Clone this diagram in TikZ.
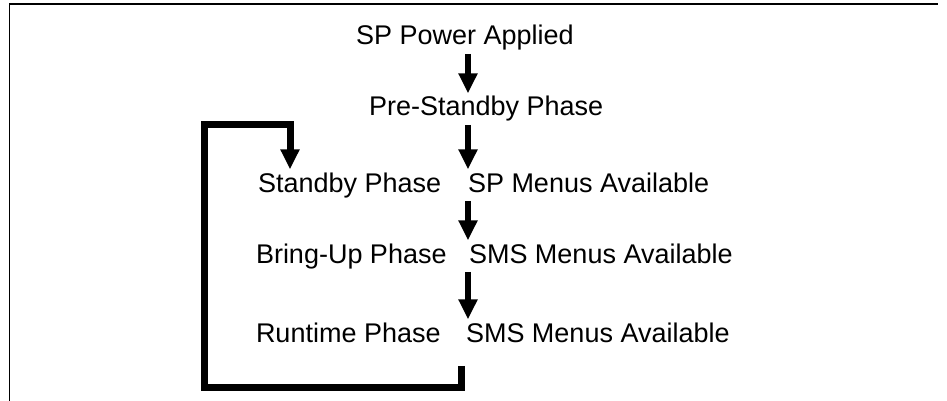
\documentclass[tikz,border=0pt]{standalone}
\usepackage{fontspec}
\setmainfont{Liberation Sans}
\usetikzlibrary{arrows.meta}
\tikzset{
  lbl/.style={anchor=base west, inner sep=0pt, outer xsep=0pt, outer ysep=1.5pt,
    font=\fontsize{13.5}{16}\selectfont, text height=9.8pt, text depth=2.9pt},
  flow/.style={line width=3pt, -{Triangle[width=9pt,length=10pt]}},
  back/.style={line width=3.5pt, -{Triangle[width=9pt,length=10pt]}},
}
\begin{document}
\begin{tikzpicture}[x=0.5pt, y=-0.5pt]
  \useasboundingbox (0,0) rectangle (947,401);
  % frame
  \draw[line width=0.6pt] (9.5,401) -- (9.5,4) -- (938,4);
  % labels
  \node[lbl] (power) at (356,45) {SP Power Applied};
  \node[lbl] (pre) at (369,116) {Pre-Standby Phase};
  \node[lbl] (standby) at (258,192) {Standby Phase};
  \node[lbl] (menu1) at (468,192) {SP Menus Available};
  \node[lbl] (bringup) at (256,263) {Bring-Up Phase};
  \node[lbl] (menu2) at (469,263) {SMS Menus Available};
  \node[lbl] (runtime) at (256,342) {Runtime Phase};
  \node[lbl] (menu3) at (466,342) {SMS Menus Available};
  % arrows
  \draw[flow] (power.south -| menu1.west) -- (pre.north -| menu1.west);
  \draw[flow] (pre.south -| menu1.west) -- (menu1.north west);
  \draw[flow] (menu1.south west) -- (menu2.north -| menu1.west);
  \draw[flow] (menu2.south -| menu1.west) -- (menu3.north -| menu1.west);
  % back loop
  \draw[back] ([shift={(-5,15)}]menu3.south west) |- (204,387) |- (290,125)
    -- (standby.north -| 290,0);
\end{tikzpicture}
\end{document}
